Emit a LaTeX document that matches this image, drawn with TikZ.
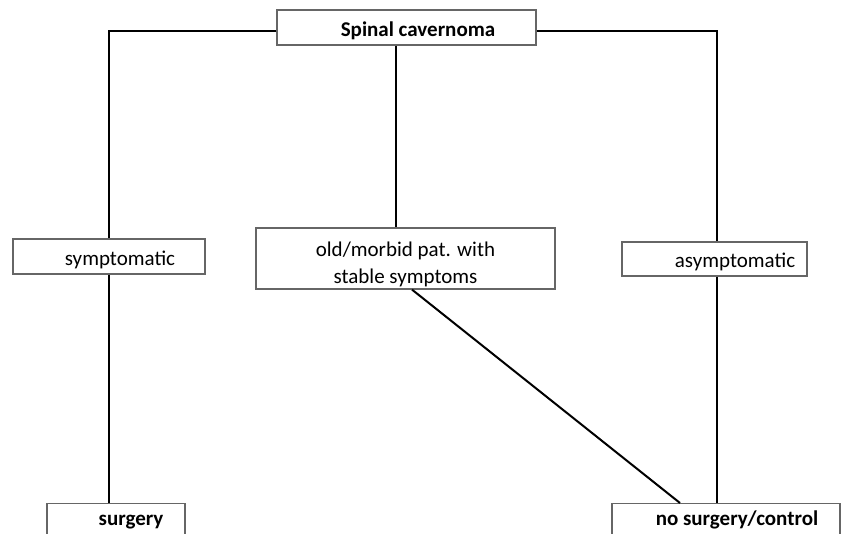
\documentclass[tikz,border=0pt]{standalone}
\usepackage{fontspec}
\setmainfont{Carlito}

\begin{document}
\begin{tikzpicture}[x=1pt,y=-1pt,
	tbox/.style={
	  draw=black!60,
	  line width=1.2pt,
	  inner sep=0pt,
	  text height=17pt,
	  text depth=0pt,
	  font=\fontsize{21}{27}\selectfont
	},
	endbox/.style={
	  tbox,
	  anchor=north,
	  inner ysep=5pt,
	  text depth=40pt,
	  font=\fontsize{21}{27}\selectfont\bfseries
	},
	conn/.style={
	  line width=2pt
	}
]

\useasboundingbox (0,0) rectangle (843,533);
\clip (0,0) rectangle (843,533);

% top
\node[tbox,font=\fontsize{21}{27}\selectfont\bfseries,
  minimum width=259pt,minimum height=35pt] at (406.5,27.5)
  (spinal) {\hspace*{23pt}Spinal cavernoma};

% middle row
\node[tbox,minimum width=192pt,minimum height=35pt] at (109,256.5)
  (sympt) {\hspace*{22pt}symptomatic};
\node[tbox,minimum width=299pt,minimum height=61pt,align=center,
  text height=49pt] at (405.5,258.5)
  (oldpat) {old/morbid pat. with\\stable symptoms};
\node[tbox,minimum width=185pt,minimum height=34pt] at (714.5,259)
  (asympt) {\hspace*{41pt}asymptomatic};

% bottom row
\node[endbox,minimum width=138pt] at (116,503)
  (surg) {\hspace*{30pt}surgery};
\node[endbox,minimum width=228pt] at (726,503)
  (nosurg) {\hspace*{22pt}no surgery/control};

% connectors
\draw[conn] ([yshift=-3.5pt]spinal.west) -| (sympt.north);
\draw[conn] ([yshift=-3.5pt]spinal.east) -| ([xshift=2.5pt]asympt.north);
\draw[conn] ([xshift=-10.5pt]spinal.south) -- ([xshift=-10.5pt]spinal.south |- oldpat.north);
\draw[conn] (sympt.south) -- (sympt.south |- surg.north);
\draw[conn] ([xshift=2.5pt]asympt.south) -- ([xshift=2.5pt]asympt.south |- nosurg.north);
\draw[conn] ([xshift=6.5pt]oldpat.south) -- ([xshift=-46pt]nosurg.north);

\end{tikzpicture}
\end{document}
